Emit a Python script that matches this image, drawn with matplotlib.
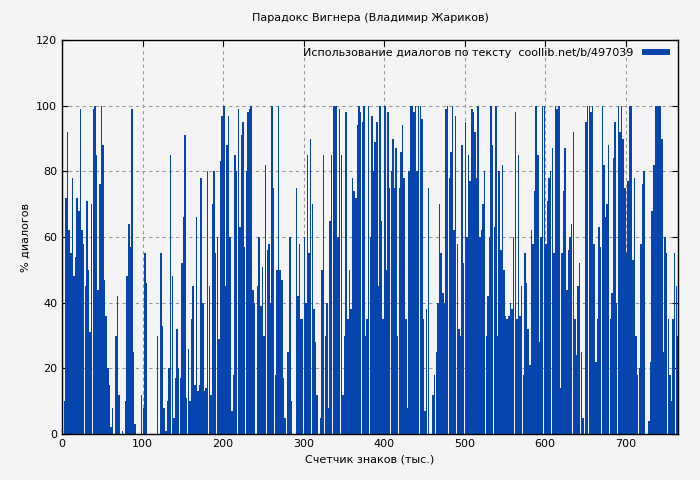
import numpy as np
import matplotlib
matplotlib.use("Agg")
import matplotlib.pyplot as plt

# % диалогов, по одному значению на каждые 2 тыс. знаков
dialog_pct = [
    5, 10, 72, 92, 62, 55, 78, 48, 54, 72,
    68, 99, 62, 58, 45, 71, 50, 31, 70, 99,
    100, 85, 44, 76, 100, 88, 47, 36, 20, 15,
    2, 8, 0, 30, 42, 12, 0, 1, 0, 10,
    48, 64, 57, 99, 25, 3, 0, 0, 0, 12,
    8, 55, 46, 0, 0, 0, 0, 0, 0, 30,
    0, 55, 33, 8, 1, 10, 20, 85, 48, 5,
    17, 32, 20, 17, 52, 66, 91, 11, 26, 10,
    35, 45, 15, 66, 13, 15, 78, 40, 13, 14,
    80, 45, 12, 70, 80, 55, 60, 29, 83, 97,
    100, 45, 88, 97, 60, 7, 18, 85, 80, 99,
    63, 91, 95, 57, 80, 98, 99, 100, 44, 40,
    0, 45, 60, 39, 51, 30, 82, 56, 58, 40,
    100, 75, 18, 50, 100, 50, 47, 17, 5, 0,
    25, 60, 10, 0, 0, 75, 42, 58, 35, 35,
    60, 40, 85, 55, 90, 70, 38, 28, 12, 0,
    5, 50, 85, 30, 40, 8, 65, 85, 100, 100,
    100, 60, 99, 85, 12, 30, 98, 35, 50, 38,
    78, 74, 72, 94, 100, 98, 95, 100, 30, 35,
    100, 60, 97, 80, 89, 95, 45, 100, 65, 35,
    100, 50, 98, 75, 80, 90, 75, 87, 30, 75,
    86, 94, 78, 35, 8, 80, 100, 100, 98, 100,
    80, 100, 100, 96, 35, 7, 38, 75, 0, 0,
    12, 18, 25, 40, 70, 55, 43, 40, 99, 100,
    78, 86, 100, 62, 97, 58, 32, 30, 88, 52,
    95, 60, 85, 77, 99, 98, 92, 78, 100, 60,
    62, 70, 80, 30, 42, 60, 100, 88, 63, 100,
    30, 80, 56, 82, 50, 36, 35, 36, 40, 38,
    60, 98, 35, 85, 36, 45, 18, 55, 46, 32,
    21, 62, 58, 74, 100, 85, 28, 60, 100, 100,
    58, 71, 78, 80, 87, 55, 100, 99, 100, 14,
    55, 74, 87, 44, 56, 60, 64, 92, 35, 24,
    45, 52, 25, 5, 0, 95, 100, 100, 98, 100,
    58, 22, 35, 63, 57, 100, 82, 66, 70, 88,
    35, 43, 84, 95, 40, 100, 92, 100, 90, 75,
    55, 77, 100, 100, 53, 78, 30, 18, 20, 58,
    76, 80, 0, 0, 4, 22, 68, 82, 100, 100,
    100, 100, 90, 25, 60, 55, 35, 18, 10, 35,
    55, 45, 30,
]
step = 2
chars_k = np.arange(len(dialog_pct)) * step

bg = '#f4f4f4'
fig = plt.figure(figsize=(7, 4.8), dpi=100)
fig.patch.set_facecolor(bg)
ax = fig.add_axes([62/700, 46/480, 616/700, 394/480])
ax.set_facecolor(bg)

ax.bar(chars_k, dialog_pct, width=step * 0.92, align='edge', color='#0645ad',
       linewidth=0, label='Использование диалогов по тексту  coollib.net/b/497039')

ax.set_xlim(0, 765)
ax.set_ylim(0, 120)
ax.set_xticks(range(0, 701, 100))
ax.set_yticks(range(0, 121, 20))
ax.grid(True, color='#999999', linestyle=(0, (3, 3)), linewidth=0.8)
ax.set_axisbelow(True)
ax.tick_params(direction='in', top=True, right=True, labelsize=8, length=4)
for s in ax.spines.values():
    s.set_linewidth(1)

ax.set_title('Парадокс Вигнера (Владимир Жариков)', fontsize=8, pad=14)
ax.set_xlabel('Счетчик знаков (тыс.)', fontsize=8)
ax.set_ylabel('% диалогов', fontsize=8)
leg = ax.legend(loc='upper right', fontsize=8, frameon=False, markerfirst=False,
                handlelength=2.5, handleheight=0.5, borderaxespad=0.3)

fig.savefig('out.png', dpi=100, facecolor=bg)
